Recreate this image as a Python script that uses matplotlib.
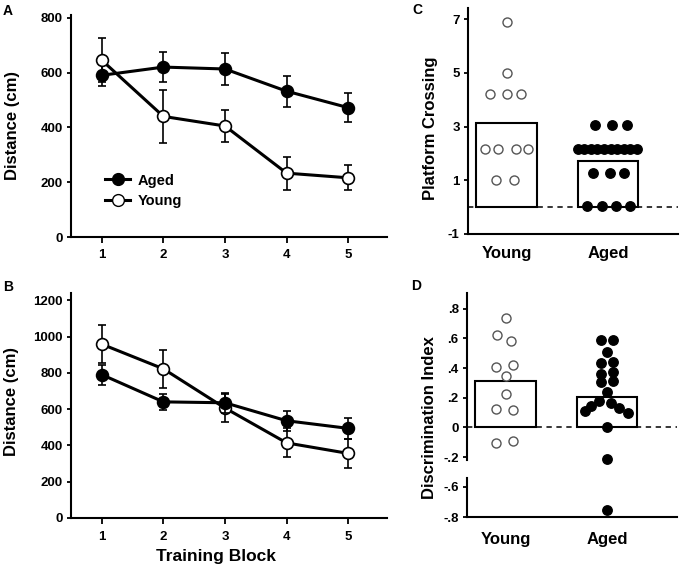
import matplotlib
matplotlib.use('Agg')
import matplotlib.pyplot as plt
from matplotlib.lines import Line2D

plt.rcParams['font.family'] = ['Liberation Sans', 'DejaVu Sans']
plt.rcParams['font.weight'] = 'bold'
plt.rcParams['axes.linewidth'] = 1.5

# ---------------- data ----------------
blocks = [1, 2, 3, 4, 5]

a_aged_mean = [590, 620, 613, 532, 472]
a_aged_sem = [40, 56, 58, 57, 52]
a_young_mean = [645, 440, 405, 233, 216]
a_young_sem = [80, 96, 60, 60, 46]

b_aged_mean = [790, 640, 635, 536, 494]
b_aged_sem = [55, 45, 55, 55, 58]
b_young_mean = [958, 822, 606, 414, 356]
b_young_sem = [105, 105, 75, 80, 80]

groups = ['Young', 'Aged']

c_bar = [3.12, 1.71]
c_young = [6.9, 5.0, 4.2, 4.2, 4.2, 2.15, 2.15, 2.15, 2.15, 1.0, 1.0]
c_young_dx = [0, 0, -0.16, 0, 0.14, -0.21, -0.08, 0.09, 0.21, -0.10, 0.07]
c_aged = [3.06, 3.06, 3.06,
          2.15, 2.15, 2.15, 2.15, 2.15, 2.15, 2.15, 2.15, 2.15, 2.15,
          1.27, 1.27, 1.27,
          0.05, 0.05, 0.05, 0.05]
c_aged_dx = [-0.13, 0.04, 0.19,
             -0.30, -0.235, -0.17, -0.105, -0.04, 0.025, 0.09, 0.155, 0.22, 0.285,
             -0.145, 0.015, 0.155,
             -0.205, -0.06, 0.08, 0.215]

d_bar = [0.315, 0.202]
d_young = [0.736, 0.62, 0.584, 0.41, 0.418, 0.348, 0.227, 0.123, 0.117, -0.105, -0.094]
d_young_dx = [0, -0.08, 0.05, -0.09, 0.07, 0, 0, -0.09, 0.07, -0.09, 0.07]
d_aged = [0.59, 0.59, 0.505, 0.435, 0.438, 0.362, 0.37, 0.303, 0.31, 0.236,
          0.175, 0.141, 0.108, 0.164, 0.13, 0.10, 0.003, -0.213, -0.751]
d_aged_dx = [-0.06, 0.06, 0, -0.06, 0.06, -0.06, 0.06, -0.06, 0.06, 0,
             -0.075, -0.155, -0.22, 0.04, 0.12, 0.205, 0, 0, 0]

# ---------------- figure ----------------
W, H = 680, 570
fig = plt.figure(figsize=(W / 100, H / 100), dpi=100)


def rect(l, r, t, b):
    return [l / W, 1 - b / H, (r - l) / W, (b - t) / H]


tick_fs = 9.5
lab_fs = 12
lw_line = 2.2
ms = 8.5


def style_line_axes(ax):
    for s in ['top', 'right']:
        ax.spines[s].set_visible(False)
    ax.tick_params(axis='both', direction='out', width=1.3, labelsize=tick_fs)
    ax.tick_params(axis='x', length=4, pad=5)
    ax.tick_params(axis='y', length=3, pad=3)
    ax.set_xlim(0.5, 5.63)
    ax.set_xticks(blocks)


def plot_series(ax, mean, sem, face, z):
    ax.errorbar(blocks, mean, yerr=sem, color='black', lw=lw_line, marker='o',
                ms=ms, mfc=face, mec='black', mew=1.2, ecolor='black',
                elinewidth=1.2, capsize=3, capthick=1.2, zorder=z)


# Panel A
axA = fig.add_axes(rect(71, 387, 15, 237))
style_line_axes(axA)
plot_series(axA, a_aged_mean, a_aged_sem, 'black', 3)
plot_series(axA, a_young_mean, a_young_sem, 'white', 4)
axA.set_ylim(0, 810)
axA.set_yticks([0, 200, 400, 600, 800])
h_aged = Line2D([], [], color='black', lw=lw_line, marker='o', ms=ms, mfc='black', mec='black')
h_young = Line2D([], [], color='black', lw=lw_line, marker='o', ms=ms, mfc='white', mec='black')
axA.legend([h_aged, h_young], ['Aged', 'Young'], loc='center left',
           bbox_to_anchor=(0.108, 0.208), frameon=False, fontsize=10.5,
           handlelength=1.7, handletextpad=0.55, labelspacing=0.45,
           borderpad=0, borderaxespad=0, numpoints=1)

# Panel B
axB = fig.add_axes(rect(71, 387, 293, 518))
style_line_axes(axB)
plot_series(axB, b_young_mean, b_young_sem, 'white', 3)
plot_series(axB, b_aged_mean, b_aged_sem, 'black', 4)
axB.set_ylim(0, 1240)
axB.set_yticks([0, 200, 400, 600, 800, 1000, 1200])

fig.text(13 / W, 1 - 125 / H, 'Distance (cm)', rotation=90, ha='center', va='center',
         fontsize=lab_fs, fontweight='bold')
fig.text(12 / W, 1 - 402 / H, 'Distance (cm)', rotation=90, ha='center', va='center',
         fontsize=lab_fs, fontweight='bold')
fig.text(216 / W, 1 - 556 / H, 'Training Block', ha='center', va='center',
         fontsize=lab_fs + 0.5, fontweight='bold')

# Panel C
axC = fig.add_axes(rect(468, 678, 8, 234))
for s in ['top', 'right']:
    axC.spines[s].set_visible(False)
axC.set_xlim(-0.38, 1.69)
axC.set_ylim(-1, 7.42)
axC.bar([0, 1], c_bar, width=0.6, color='white', edgecolor='black', lw=1.5, zorder=2)
axC.axhline(0, color='black', lw=1.1, ls=(0, (3.5, 3)), zorder=1)
axC.plot([0 + d for d in c_young_dx], c_young, 'o', ms=6.5, mfc='white', mec='#555555',
         mew=1.0, zorder=3, clip_on=False)
axC.plot([1 + d for d in c_aged_dx], c_aged, 'o', ms=6.8, mfc='black', mec='black',
         zorder=3, clip_on=False)
axC.set_yticks([-1, 1, 3, 5, 7])
axC.set_yticklabels(['-1', '1', '3', '5', '7'])
axC.set_xticks([0, 1])
axC.set_xticklabels(groups)
axC.tick_params(axis='y', direction='out', length=3, width=1.3, labelsize=tick_fs, pad=3)
axC.tick_params(axis='x', length=0, labelsize=12, pad=9)
fig.text(431 / W, 1 - 128 / H, 'Platform Crossing', rotation=90, ha='center', va='center',
         fontsize=lab_fs, fontweight='bold')

# Panel D (broken axis)
axD = fig.add_axes(rect(467, 677, 293, 460))
axD2 = fig.add_axes(rect(467, 677, 478, 517))
for s in ['top', 'right', 'bottom']:
    axD.spines[s].set_visible(False)
for s in ['top', 'right']:
    axD2.spines[s].set_visible(False)
for ax in (axD, axD2):
    ax.set_xlim(-0.38, 1.69)
axD.set_ylim(-0.22, 0.906)
axD2.set_ylim(-0.8, -0.543)
axD.bar([0, 1], d_bar, width=0.6, color='white', edgecolor='black', lw=1.5, zorder=2)
axD.axhline(0, color='black', lw=1.1, ls=(0, (3.5, 3)), zorder=1)

split = -0.4  # values above the break go to the upper axes


def part(xs, ys, upper):
    pts = [(x, y) for x, y in zip(xs, ys) if (y > split) == upper]
    return [p[0] for p in pts], [p[1] for p in pts]


for ax, upper in ((axD, True), (axD2, False)):
    xs, ys = part([0 + d for d in d_young_dx], d_young, upper)
    ax.plot(xs, ys, 'o', ms=6.5, mfc='white', mec='#555555', mew=1.0, zorder=3, clip_on=False)
    xs, ys = part([1 + d for d in d_aged_dx], d_aged, upper)
    ax.plot(xs, ys, 'o', ms=6.8, mfc='black', mec='black', zorder=3, clip_on=False)
axD.set_yticks([-0.2, 0, 0.2, 0.4, 0.6, 0.8])
axD.set_yticklabels(['-.2', '0', '.2', '.4', '.6', '.8'])
axD.set_xticks([])
axD2.set_yticks([-0.8, -0.6])
axD2.set_yticklabels(['-.8', '-.6'])
axD2.set_xticks([0, 1])
axD2.set_xticklabels(groups)
for ax in (axD, axD2):
    ax.tick_params(axis='y', direction='out', length=3, width=1.3, labelsize=tick_fs, pad=3)
axD2.tick_params(axis='x', length=0, labelsize=12, pad=11)
fig.text(430 / W, 1 - 418 / H, 'Discrimination Index', rotation=90, ha='center', va='center',
         fontsize=lab_fs, fontweight='bold')

# panel letters
for letter, x, y in [('A', 3, 11), ('B', 3, 287), ('C', 412, 10), ('D', 411, 286)]:
    fig.text(x / W, 1 - y / H, letter, ha='left', va='center', fontsize=10, fontweight='bold')

fig.savefig('out.png', dpi=100)
